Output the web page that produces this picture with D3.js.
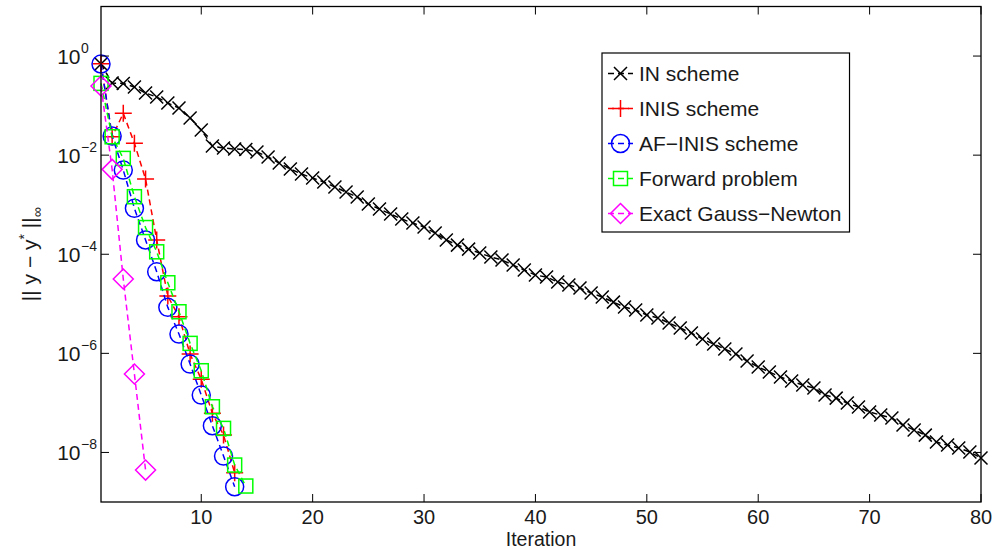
<!DOCTYPE html>
<html>
<head>
<meta charset="utf-8">
<script src="https://cdn.jsdelivr.net/npm/d3@7"></script>
<style>
  html, body { margin: 0; padding: 0; background: #fff; }
  svg { display: block; }
  text { font-family: "Liberation Sans", Arial, Helvetica, sans-serif; fill: #1a1a1a; }
</style>
</head>
<body>
<svg id="chart" width="994" height="550"></svg>
<script>
// ---------------- data ----------------
const seriesNames = ["IN scheme", "INIS scheme", "AF\u2212INIS scheme", "Forward problem", "Exact Gauss\u2212Newton"];

const inScheme = [0.69, 0.285, 0.28, 0.237, 0.179, 0.149, 0.1125, 0.0893, 0.0561, 0.0321,
  0.0153, 0.0139, 0.0133, 0.0130, 0.01155, 0.00916, 0.00693, 0.00525, 0.00416, 0.00345,
  0.00287, 0.00227, 0.00180, 0.00143, 0.00103, 8.17e-4, 6.48e-4, 5.13e-4, 4.26e-4, 3.54e-4,
  2.68e-4, 1.94e-4, 1.53e-4, 1.27e-4, 1.06e-4, 8.79e-5, 7.64e-5, 6.05e-5, 4.80e-5, 3.80e-5,
  3.47e-5, 2.75e-5, 2.39e-5, 2.08e-5, 1.65e-5, 1.37e-5, 1.08e-5, 8.59e-6, 7.48e-6, 5.93e-6,
  5.16e-6, 4.09e-6, 3.24e-6, 2.57e-6, 1.94e-6, 1.54e-6, 1.22e-6, 9.68e-7, 7.00e-7, 5.30e-7,
  4.20e-7, 3.33e-7, 2.76e-7, 2.29e-7, 2.00e-7, 1.44e-7, 1.25e-7, 9.93e-8, 8.24e-8, 6.53e-8,
  5.69e-8, 4.95e-8, 3.57e-8, 2.83e-8, 2.24e-8, 1.62e-8, 1.41e-8, 1.23e-8, 1.02e-8, 7.71e-9];

const inisScheme = [0.70, 0.0235, 0.0698, 0.0173, 0.00330, 1.94e-4, 1.43e-5, 5.48e-6, 9.68e-7, 2.99e-7,
  6.15e-8, 2.24e-8, 3.89e-9];

const afInisScheme = [0.69, 0.0243, 0.0050, 8.44e-4, 1.94e-4, 4.43e-5, 8.47e-6, 2.45e-6, 6.08e-7, 1.44e-7,
  3.46e-8, 8.46e-9, 2.03e-9];

const forwardProblem = [0.281, 0.0235, 0.0086, 1.45e-3, 3.46e-4, 1.12e-4, 2.66e-5, 6.91e-6, 1.59e-6, 4.46e-7,
  8.36e-8, 3.06e-8, 5.57e-9, 2.10e-9];

const exactGaussNewton = [0.248, 0.00517, 3.16e-5, 3.82e-7, 4.41e-9];

const xTicks = [10, 20, 30, 40, 50, 60, 70, 80];
const yTickExps = [0, -2, -4, -6, -8];

// ---------------- layout ----------------
const L = 101, R = 981, T = 6.5, B = 502;
const svg = d3.select("#chart");
const x = d3.scaleLinear().domain([1, 80]).range([L, R]);
const y = d3.scaleLog().domain([1e-9, 1e1]).range([B, T]);

const styles = [
  { color: "#000000", marker: "x" },
  { color: "#ff0000", marker: "plus" },
  { color: "#0000ff", marker: "circle" },
  { color: "#00ff00", marker: "square" },
  { color: "#ff00ff", marker: "diamond" }
];
const allSeries = [inScheme, inisScheme, afInisScheme, forwardProblem, exactGaussNewton];

function drawMarker(g, type, cx, cy, color) {
  const sw = 1.5;
  if (type === "x") {
    const s = 6.5;
    g.append("path").attr("d", `M${cx - s},${cy - s}L${cx + s},${cy + s}M${cx - s},${cy + s}L${cx + s},${cy - s}`)
      .attr("stroke", color).attr("stroke-width", sw).attr("fill", "none");
  } else if (type === "plus") {
    const s = 8.5;
    g.append("path").attr("d", `M${cx - s},${cy}L${cx + s},${cy}M${cx},${cy - s}L${cx},${cy + s}`)
      .attr("stroke", color).attr("stroke-width", sw).attr("fill", "none");
  } else if (type === "circle") {
    g.append("circle").attr("cx", cx).attr("cy", cy).attr("r", 9)
      .attr("stroke", color).attr("stroke-width", sw).attr("fill", "none");
  } else if (type === "square") {
    const s = 7;
    g.append("rect").attr("x", cx - s).attr("y", cy - s).attr("width", 2 * s).attr("height", 2 * s)
      .attr("stroke", color).attr("stroke-width", sw).attr("fill", "none");
  } else if (type === "diamond") {
    const s = 10;
    g.append("path").attr("d", `M${cx},${cy - s}L${cx + s},${cy}L${cx},${cy + s}L${cx - s},${cy}Z`)
      .attr("stroke", color).attr("stroke-width", sw).attr("fill", "none");
  }
}

// ---------------- series ----------------
const line = d3.line().x((d, i) => x(i + 1)).y(d => y(d));
allSeries.forEach((vals, k) => {
  const st = styles[k];
  const g = svg.append("g");
  g.append("path").datum(vals).attr("d", line)
    .attr("fill", "none").attr("stroke", st.color).attr("stroke-width", 1.5)
    .attr("stroke-dasharray", "6,4");
  vals.forEach((v, i) => drawMarker(g, st.marker, x(i + 1), y(v), st.color));
});

// ---------------- axes box & ticks ----------------
const ax = svg.append("g");
ax.append("rect").attr("x", L).attr("y", T).attr("width", R - L).attr("height", B - T)
  .attr("fill", "none").attr("stroke", "#000").attr("stroke-width", 1.3);

const tl = 8;
xTicks.forEach(t => {
  const px = x(t);
  ax.append("line").attr("x1", px).attr("x2", px).attr("y1", B).attr("y2", B - tl).attr("stroke", "#000").attr("stroke-width", 1);
  ax.append("line").attr("x1", px).attr("x2", px).attr("y1", T).attr("y2", T + tl).attr("stroke", "#000").attr("stroke-width", 1);
  ax.append("text").attr("x", px).attr("y", 524).attr("text-anchor", "middle")
    .attr("font-size", 20).text(t);
});

yTickExps.forEach(e => {
  const py = y(Math.pow(10, e));
  ax.append("line").attr("x1", L).attr("x2", L + tl).attr("y1", py).attr("y2", py).attr("stroke", "#000").attr("stroke-width", 1);
  ax.append("line").attr("x1", R).attr("x2", R - tl).attr("y1", py).attr("y2", py).attr("stroke", "#000").attr("stroke-width", 1);
  ax.append("text").attr("x", 80.5).attr("y", py + 8).attr("text-anchor", "end")
    .attr("font-size", 21).text("10");
  ax.append("text").attr("x", 81).attr("y", py - 3).attr("text-anchor", "start")
    .attr("font-size", 14).text(e === 0 ? "0" : "\u2212" + Math.abs(e));
});

// axis labels
svg.append("text").attr("x", (L + R) / 2).attr("y", 545.5).attr("text-anchor", "middle")
  .attr("font-size", 19.5).text("Iteration");

const yl = svg.append("text").attr("transform", `translate(37,${(T + B) / 2}) rotate(-90)`)
  .attr("text-anchor", "middle").attr("font-size", 21);
yl.append("tspan").text("|| y \u2212 y");
yl.append("tspan").attr("font-size", 14).attr("dy", -8).text("*");
yl.append("tspan").attr("dy", 8).text(" ||");
yl.append("tspan").attr("font-size", 14).attr("dy", 5).text("\u221e");

// ---------------- legend ----------------
const lg = svg.append("g");
const lgLeft = 602, lgTop = 53, lgBottom = 232;
const box = lg.append("rect").attr("x", lgLeft).attr("y", lgTop).attr("height", lgBottom - lgTop)
  .attr("fill", "#fff").attr("stroke", "#000").attr("stroke-width", 1.2);
let maxEnd = 0;
seriesNames.forEach((name, k) => {
  const cy = 73.5 + k * 35;
  const st = styles[k];
  lg.append("line").attr("x1", 608).attr("x2", 633).attr("y1", cy).attr("y2", cy)
    .attr("stroke", st.color).attr("stroke-width", 1.5).attr("stroke-dasharray", "6,4");
  drawMarker(lg, st.marker, 620.5, cy, st.color);
  const t = lg.append("text").attr("x", 639).attr("y", cy + 7.5).attr("font-size", 21).text(name);
  const w = t.node().getComputedTextLength();
  maxEnd = Math.max(maxEnd, 639 + w);
});
box.attr("width", maxEnd + 8 - lgLeft);
</script>
</body>
</html>
